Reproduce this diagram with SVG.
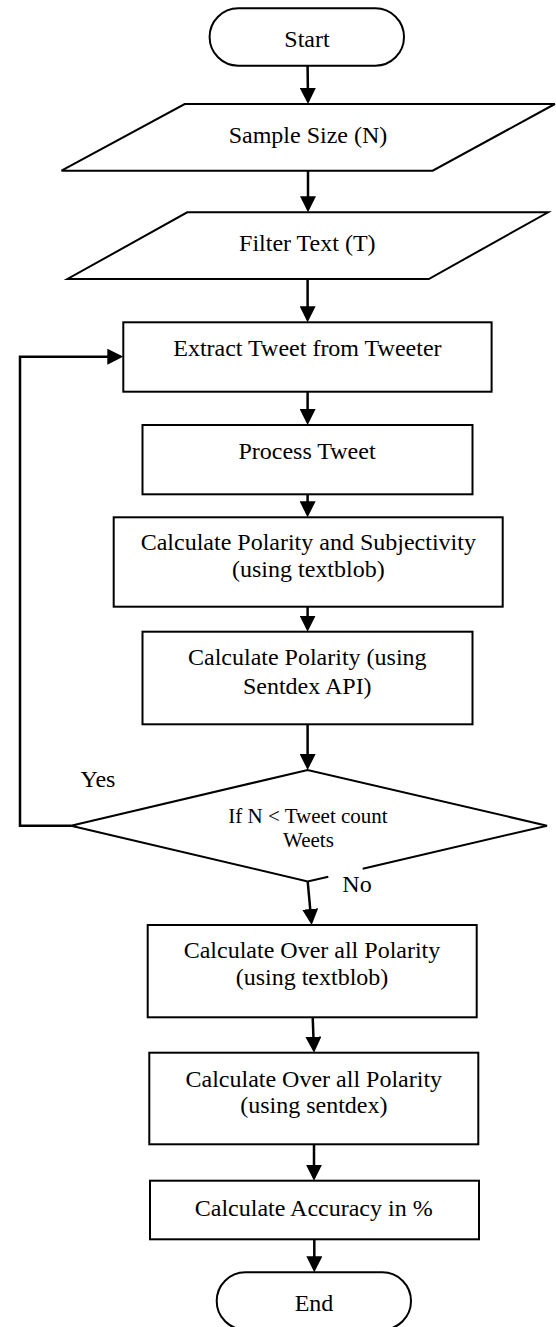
<svg xmlns="http://www.w3.org/2000/svg" width="556" height="1327" viewBox="0 0 556 1327">
<style>
.shape{fill:#fff;stroke:#000;stroke-width:2}
.open{fill:none;stroke:#000;stroke-width:2}
.conn{fill:none;stroke:#000;stroke-width:2.5}
.t{font-family:"Liberation Serif","Times New Roman",serif;font-size:24px;fill:#000;text-anchor:middle}
.s{font-size:21px}
</style>
<defs>
<marker id="ah" markerUnits="userSpaceOnUse" markerWidth="16" markerHeight="16" viewBox="0 0 16 16" refX="13" refY="8" orient="auto">
<path d="M0,0 L16,8 L0,16 Z" fill="#000"/>
</marker>
</defs>
<g id="connectors">
<path class="conn" d="M307.6,65.7 L308,101" marker-end="url(#ah)"/>
<path class="conn" d="M308,170.7 L308,209.3" marker-end="url(#ah)"/>
<path class="conn" d="M307.6,279 L307.6,319.3" marker-end="url(#ah)"/>
<path class="conn" d="M307.6,391.7 L307.6,422" marker-end="url(#ah)"/>
<path class="conn" d="M307.6,494.3 L307.6,514.3" marker-end="url(#ah)"/>
<path class="conn" d="M307.6,606.7 L307.6,628.7" marker-end="url(#ah)"/>
<path class="conn" d="M307.6,724.3 L307.6,767" marker-end="url(#ah)"/>
<path class="conn" d="M307.7,881.5 L311.4,922" marker-end="url(#ah)"/>
<path class="conn" d="M312.7,1017.3 L313.9,1049.7" marker-end="url(#ah)"/>
<path class="conn" d="M314,1144.3 L314,1177.7" marker-end="url(#ah)"/>
<path class="conn" d="M314.3,1239.3 L314.3,1269.3" marker-end="url(#ah)"/>
<path class="conn" d="M71,825.7 L20,825.7 L20,356.7 L120.3,356.7" marker-end="url(#ah)"/>
</g>
<g id="start">
<rect class="shape" x="209.6" y="8.3" width="194.4" height="57.4" rx="28.7" ry="28.7"/>
<text class="t" x="307" y="46.7">Start</text>
</g>
<g id="sample-size">
<polygon class="shape" points="184.7,104 554.9,104 432.7,170.7 61.5,170.7"/>
<text class="t" x="308" y="142.7">Sample Size (N)</text>
</g>
<g id="filter-text">
<polygon class="shape" points="187.2,212.3 548.1,212.3 428.8,279 67.5,279"/>
<text class="t" x="307.3" y="250.7">Filter Text (T)</text>
</g>
<g id="extract">
<rect class="shape" x="123.3" y="322.3" width="368.3" height="69.4"/>
<text class="t" x="307.4" y="355.7">Extract Tweet from Tweeter</text>
</g>
<g id="process">
<rect class="shape" x="142.5" y="425" width="330" height="69.3"/>
<text class="t" x="307" y="459.3">Process Tweet</text>
</g>
<g id="calc-textblob">
<rect class="shape" x="113.7" y="517.3" width="389" height="89.4"/>
<text class="t" x="308.3" y="550">Calculate Polarity and Subjectivity</text>
<text class="t" x="308.3" y="577">(using textblob)</text>
</g>
<g id="calc-sentdex">
<rect class="shape" x="142.5" y="631.7" width="330" height="92.6"/>
<text class="t" x="307.3" y="665">Calculate Polarity (using</text>
<text class="t" x="307.3" y="694">Sentdex API)</text>
</g>
<g id="decision">
<path class="open" d="M328.3,876.7 L307.7,881.5 L71,825.7 L307.6,770 L547,825.7 L362.7,868.7"/>
<text class="t s" x="308" y="823.3">If N &lt; Tweet count</text>
<text class="t s" x="308.5" y="846.7">Weets</text>
<text class="t" x="98" y="786.7">Yes</text>
<text class="t" x="357" y="892.3">No</text>
</g>
<g id="overall-textblob">
<rect class="shape" x="147.7" y="925" width="329" height="92.3"/>
<text class="t" x="312" y="957.7">Calculate Over all Polarity</text>
<text class="t" x="312" y="985">(using textblob)</text>
</g>
<g id="overall-sentdex">
<rect class="shape" x="149.3" y="1052.7" width="329" height="91.6"/>
<text class="t" x="313.8" y="1086.7">Calculate Over all Polarity</text>
<text class="t" x="313.8" y="1113.3">(using sentdex)</text>
</g>
<g id="accuracy">
<rect class="shape" x="150" y="1180.7" width="329" height="58.6"/>
<text class="t" x="313.7" y="1216">Calculate Accuracy in %</text>
</g>
<g id="end">
<rect class="shape" x="216.7" y="1272.3" width="194.3" height="57.4" rx="28.7" ry="28.7"/>
<text class="t" x="314" y="1311">End</text>
</g>
</svg>
